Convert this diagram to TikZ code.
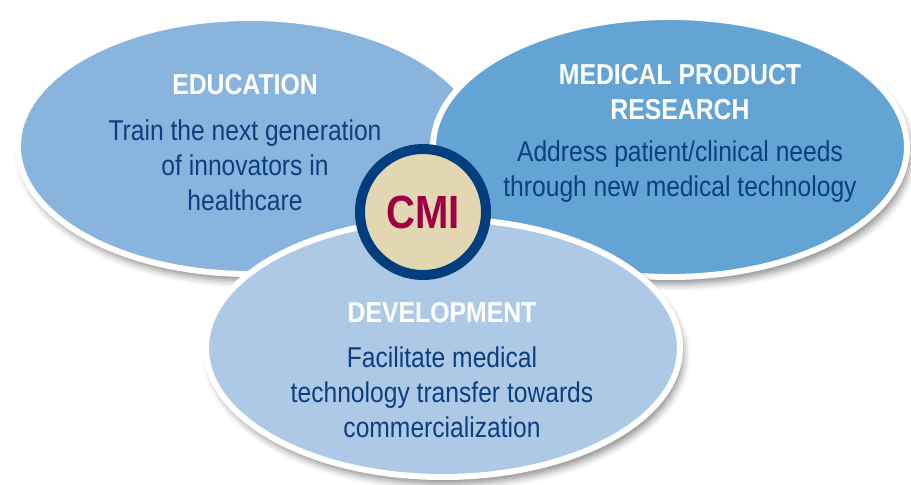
\documentclass[tikz,border=0pt]{standalone}
\usepackage{fontspec}
\setmainfont{Liberation Sans}[FakeStretch=0.86]
\usetikzlibrary{shadows.blur}

\definecolor{eduBlue}{HTML}{88B4DD}
\definecolor{resBlue}{HTML}{64A4D4}
\definecolor{devBlue}{HTML}{AEC9E6}
\definecolor{cmiNavy}{HTML}{003E7E}
\definecolor{cmiBeige}{HTML}{E2D6B3}
\definecolor{cmiRed}{HTML}{9C0041}
\definecolor{textBlue}{HTML}{0C3F7F}

\tikzset{
  bubble/.style={draw=white, line width=3.4pt,
    blur shadow={shadow xshift=2pt, shadow yshift=-4pt,
      shadow blur radius=4pt, shadow opacity=45}},
  title/.style={text=white, align=center,
    font=\bfseries\fontsize{16.4}{19.9}\selectfont},
  blurb/.style={text=textBlue, align=center,
    font=\fontsize{16.3}{19.9}\selectfont},
}

\begin{document}
\begin{tikzpicture}[x=0.02cm, y=-0.02cm]
  \useasboundingbox (0,0) rectangle (911,484);

  % the three areas, back to front
  \draw [bubble, fill=eduBlue] (250,146) ellipse [x radius=232, y radius=128];
  \draw [bubble, fill=resBlue] (670,147) ellipse [x radius=237, y radius=130];
  \draw [bubble, fill=devBlue] (443,348) ellipse [x radius=237, y radius=129];

  % education
  \node [title] (eduTitle) at (245,85) {EDUCATION};
  \node [blurb] (eduText) at (245,165)
    {Train the next generation\\of innovators in\\healthcare};

  % research
  \node [title] (resTitle) at (680,92) {MEDICAL PRODUCT\\RESEARCH};
  \node [blurb] (resText) at (680,172)
    {Address patient/clinical needs\\through new medical technology};

  % development
  \node [title] (devTitle) at (442,313) {DEVELOPMENT};
  \node [blurb] (devText) at (442,392)
    {Facilitate medical\\technology transfer towards\\commercialization};

  % centre badge
  \node [circle, draw=cmiNavy, line width=5.7pt, fill=cmiBeige,
    minimum size=2.52cm, inner sep=0pt, text=cmiRed,
    font=\bfseries\fontsize{26.5}{30}\selectfont] (cmi) at (423,212) {CMI};
\end{tikzpicture}
\end{document}
